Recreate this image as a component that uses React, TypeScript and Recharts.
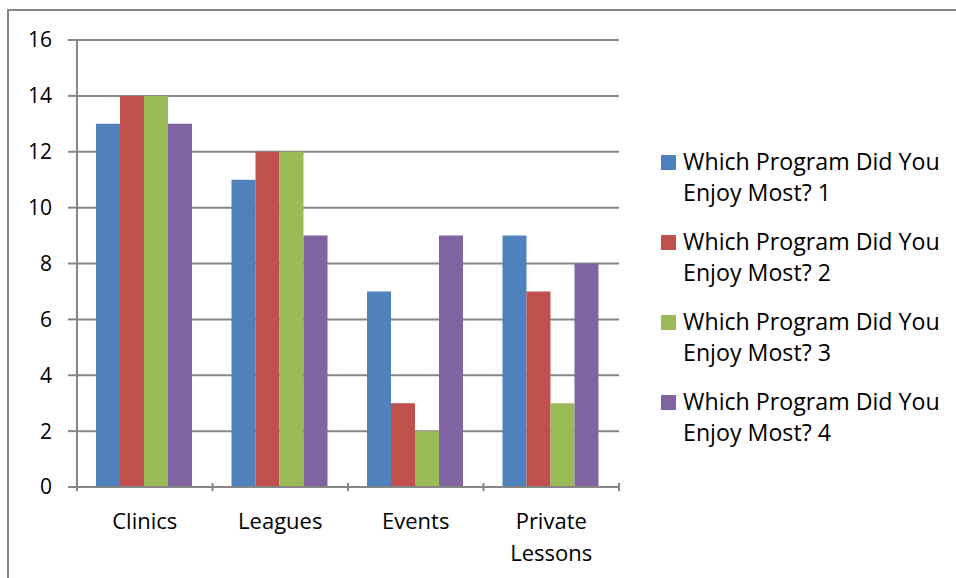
import React from 'react'
import { BarChart, Bar, XAxis, YAxis, CartesianGrid } from 'recharts'

const categories = ['Clinics', 'Leagues', 'Events', 'Private Lessons']
const series1 = [13, 11, 7, 9]
const series2 = [14, 12, 3, 7]
const series3 = [14, 12, 2, 3]
const series4 = [13, 9, 9, 8]
const seriesNames = [
  'Which Program Did You Enjoy Most? 1',
  'Which Program Did You Enjoy Most? 2',
  'Which Program Did You Enjoy Most? 3',
  'Which Program Did You Enjoy Most? 4',
]
const colors = ['#4F81BD', '#C0504D', '#9BBB59', '#8064A2']
const yTicks = [0, 2, 4, 6, 8, 10, 12, 14, 16]

const data = categories.map((name, i) => ({
  name,
  s1: series1[i],
  s2: series2[i],
  s3: series3[i],
  s4: series4[i],
}))

const FONT = '"Open Sans", Lato, sans-serif'
const GRID = '#868686'

// category label with word wrap + boundary tick marks
// eslint-disable-next-line @typescript-eslint/no-explicit-any
function CategoryTick({ x, y, payload, index }: any) {
  const half = payload?.offset || 67.75
  const words = String(payload.value).split(' ')
  return (
    <g>
      <line x1={x - half} y1={y - 12} x2={x - half} y2={y - 4} stroke={GRID} strokeWidth={2} />
      {index === categories.length - 1 && (
        <line x1={x + half} y1={y - 12} x2={x + half} y2={y - 4} stroke={GRID} strokeWidth={2} />
      )}
      <text x={x} y={y + 34} textAnchor="middle" fill="#000" fontSize={22} fontFamily={FONT}>
        {words.map((w, i) => (
          <tspan key={w} x={x} dy={i === 0 ? 0 : 32}>
            {w}
          </tspan>
        ))}
      </text>
    </g>
  )
}

function LegendBox() {
  return (
    <div style={{ fontFamily: FONT, fontSize: 23.2, color: '#000' }}>
      {seriesNames.map((n, i) => {
        const cut = n.lastIndexOf(' Enjoy')
        return (
          <div key={n} style={{ display: 'flex', alignItems: 'flex-start', height: 80 }}>
            <div style={{ width: 15, height: 15, background: colors[i], marginTop: 9, marginRight: 7, flexShrink: 0 }} />
            <div style={{ lineHeight: '31px', whiteSpace: 'nowrap' }}>
              <div>{n.slice(0, cut)}</div>
              <div>{n.slice(cut + 1)}</div>
            </div>
          </div>
        )
      })}
    </div>
  )
}

export default function App() {
  return (
    <div style={{ position: 'absolute', left: 0, top: 0, width: 956, height: 578, overflow: 'hidden', background: '#fff' }}>
      <div
        style={{
          position: 'absolute',
          left: 7,
          top: 9,
          width: 980,
          height: 600,
          border: `2px solid ${GRID}`,
          boxSizing: 'border-box',
        }}
      />
      <div style={{ position: 'absolute', left: 0, top: 0 }}>
        <BarChart
          width={956}
          height={578}
          data={data}
          margin={{ top: 40, right: 337, bottom: 11, left: 17 }}
          barCategoryGap={19}
          barGap={0}
        >
          <CartesianGrid vertical={false} stroke={GRID} strokeWidth={2} />
          <YAxis
            domain={[0, 16]}
            ticks={yTicks}
            interval={0}
            width={60}
            axisLine={{ stroke: GRID, strokeWidth: 2 }}
            tickLine={{ stroke: GRID, strokeWidth: 2 }}
            tickSize={9}
            tickMargin={16}
            tick={{ fill: '#000', fontSize: 21, fontFamily: FONT }}
          />
          <XAxis
            dataKey="name"
            height={80}
            interval={0}
            axisLine={{ stroke: GRID, strokeWidth: 2 }}
            tickLine={false}
            tick={<CategoryTick />}
          />
          <Bar dataKey="s1" name={seriesNames[0]} fill={colors[0]} isAnimationActive={false} />
          <Bar dataKey="s2" name={seriesNames[1]} fill={colors[1]} isAnimationActive={false} />
          <Bar dataKey="s3" name={seriesNames[2]} fill={colors[2]} isAnimationActive={false} />
          <Bar dataKey="s4" name={seriesNames[3]} fill={colors[3]} isAnimationActive={false} />
        </BarChart>
      </div>
      <div style={{ position: 'absolute', left: 661, top: 146 }}>
        <LegendBox />
      </div>
    </div>
  )
}
